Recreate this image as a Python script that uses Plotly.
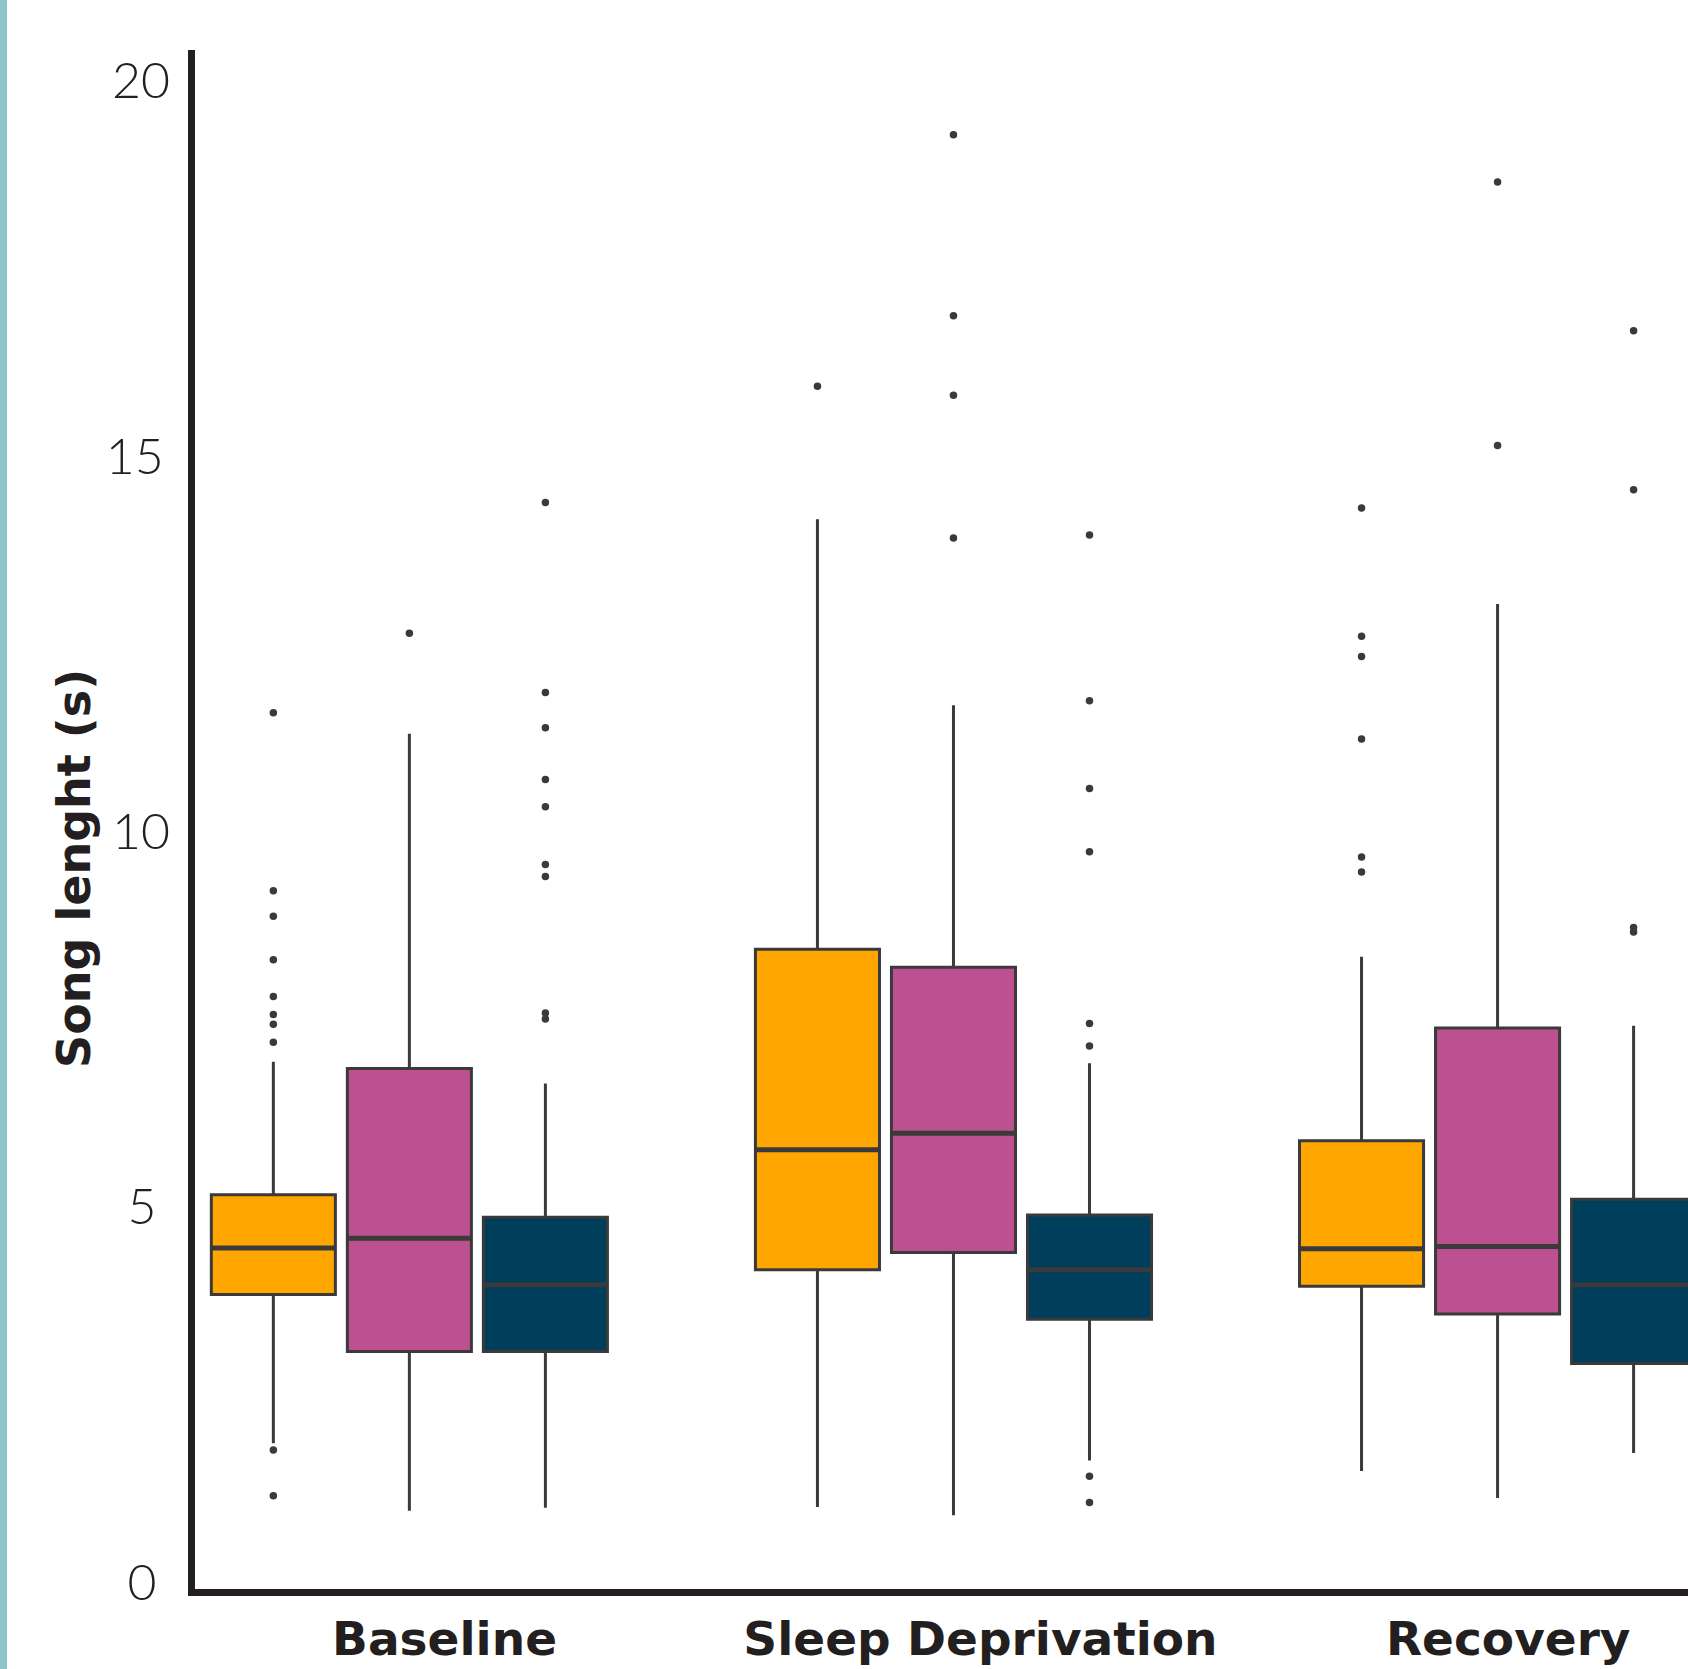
import plotly.graph_objects as go

# ---------------- data ----------------
categories = ["Baseline", "Sleep Deprivation", "Recovery"]
y_tick_values = [0, 5, 10, 15, 20]
y_tick_labels = ["0", "5", "10", "15", "20"]
y_title = "Song lenght (s)"

series_names = ["Group 1", "Group 2", "Group 3"]
series_colors = ["#ffa600", "#bc5090", "#003f5c"]

# Group 1 (orange)
g1_lower = [1.85, 1.00, 1.48]
g1_q1 = [3.83, 4.16, 3.94]
g1_median = [4.45, 5.76, 4.44]
g1_q3 = [5.16, 8.43, 5.88]
g1_upper = [6.93, 14.16, 8.33]
g1_outliers = [
    [11.58, 9.21, 8.87, 8.29, 7.80, 7.56, 7.43, 7.19, 1.76, 1.15],
    [15.93],
    [14.31, 12.60, 12.33, 11.23, 9.66, 9.46],
]

# Group 2 (pink)
g2_lower = [0.95, 0.89, 1.12]
g2_q1 = [3.07, 4.39, 3.57]
g2_median = [4.58, 5.98, 4.47]
g2_q3 = [6.84, 8.19, 7.38]
g2_upper = [11.30, 11.68, 13.03]
g2_outliers = [
    [12.64],
    [19.28, 16.87, 15.81, 13.91],
    [18.65, 15.14],
]

# Group 3 (navy)
g3_lower = [0.99, 1.62, 1.72]
g3_q1 = [3.07, 3.50, 2.91]
g3_median = [3.96, 4.16, 3.96]
g3_q3 = [4.86, 4.89, 5.10]
g3_upper = [6.64, 6.91, 7.41]
g3_outliers = [
    [14.38, 11.85, 11.38, 10.69, 10.33, 9.56, 9.40, 7.58, 7.50],
    [13.95, 11.74, 10.57, 9.73, 7.44, 7.14, 1.41, 1.06],
    [16.67, 14.55, 8.72, 8.66],
]

# ---------------- figure ----------------
INK = "#231f20"
EDGE = "#3a3a3a"

stats = [
    (g1_lower, g1_q1, g1_median, g1_q3, g1_upper, g1_outliers),
    (g2_lower, g2_q1, g2_median, g2_q3, g2_upper, g2_outliers),
    (g3_lower, g3_q1, g3_median, g3_q3, g3_upper, g3_outliers),
]

fig = go.Figure()

for i, (lo, q1, med, q3, up, outs) in enumerate(stats):
    fig.add_trace(go.Box(
        name=series_names[i],
        x=categories,
        lowerfence=lo, q1=q1, median=med, q3=q3, upperfence=up,
        fillcolor=series_colors[i],
        line=dict(color=EDGE, width=3),
        whiskerwidth=0,
        offsetgroup=str(i),
        boxpoints=False,
        showlegend=False,
    ))

# thicker median bars, drawn from the same median values
for i, (lo, q1, med, q3, up, outs) in enumerate(stats):
    fig.add_trace(go.Box(
        name=series_names[i] + " median",
        x=categories,
        lowerfence=med, q1=med, median=med, q3=med, upperfence=med,
        fillcolor="rgba(0,0,0,0)",
        line=dict(color=EDGE, width=5),
        whiskerwidth=0,
        offsetgroup=str(i),
        boxpoints=False,
        showlegend=False,
        hoverinfo="skip",
    ))

# outliers
for i, (lo, q1, med, q3, up, outs) in enumerate(stats):
    xs, ys = [], []
    for cat, vals in zip(categories, outs):
        xs += [cat] * len(vals)
        ys += vals
    fig.add_trace(go.Scatter(
        x=xs, y=ys, mode="markers",
        marker=dict(color=EDGE, size=7.5),
        offsetgroup=str(i),
        showlegend=False,
        name=series_names[i] + " outliers",
    ))

W, H = 1688, 1669
ML, MR, MT, MB = 195, 0, 50, 80
pw = W - ML - MR
ph = H - MT - MB

NBSP = "\u00a0"
THIN = "\u2009"
# y tick labels are centred in the reference: pad narrow labels on the right
y_pads = [NBSP, NBSP, "", THIN, ""]
y_tick_text = [lab + p for lab, p in zip(y_tick_labels, y_pads)]
# nudge individual category labels to their reference positions
x_lead = [NBSP, "", ""]
x_trail = ["", "", NBSP * 2]
x_tick_text = [a + c + b for a, c, b in zip(x_lead, categories, x_trail)]

fig.update_layout(
    width=W, height=H,
    margin=dict(l=ML, r=MR, t=MT, b=MB),
    paper_bgcolor="white",
    plot_bgcolor="white",
    boxmode="group",
    boxgap=0.25,
    boxgroupgap=0.088,
    scattermode="group",
    scattergap=0.25,
    showlegend=False,
    xaxis=dict(
        type="category",
        range=[-0.394, 2.35],
        tickvals=categories,
        ticktext=x_tick_text,
        showline=True, linecolor=INK, linewidth=7,
        ticks="", showgrid=False, zeroline=False,
        automargin=False,
        tickfont=dict(family="DejaVu Sans", size=47, color=INK, weight="bold"),
        ticklabelshift=27,
        ticklabelstandoff=3,
    ),
    yaxis=dict(
        range=[-0.093, 20.41],
        tickvals=y_tick_values,
        ticktext=y_tick_text,
        showline=True, linecolor=INK, linewidth=7,
        ticks="", showgrid=False, zeroline=False,
        automargin=False,
        tickfont=dict(family="Lato", size=50, color=INK, weight=300),
        ticklabelstandoff=8,
    ),
    annotations=[dict(
        text=y_title, textangle=-90,
        xref="paper", yref="paper",
        x=(74 - ML) / pw, y=(H - MB - 868) / ph,
        xanchor="center", yanchor="middle",
        showarrow=False,
        font=dict(family="DejaVu Sans", size=46, color=INK, weight="bold"),
    )],
    shapes=[dict(
        type="rect", xref="paper", yref="paper",
        x0=(0 - ML) / pw, x1=(7 - ML) / pw,
        y0=-0.1, y1=1.1,
        fillcolor="#8fc4c9", line=dict(width=0), layer="above",
    )],
)

fig.write_html(
    "out.html",
    config={"displayModeBar": False},
    post_script="document.body.style.margin='0';document.body.style.overflow='hidden';",
)
